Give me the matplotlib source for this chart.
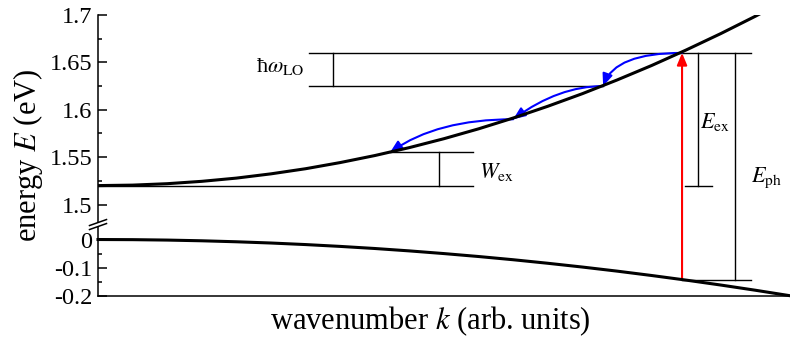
import numpy as np
import matplotlib
matplotlib.use('Agg')
import matplotlib.pyplot as plt
from matplotlib import transforms

plt.rcParams['font.family'] = ['Liberation Serif', 'DejaVu Serif']
plt.rcParams['mathtext.fontset'] = 'stix'

# exciton and valence band dispersion (k in arb. units, E in eV)
k_grid = [0.0, 0.05, 0.1, 0.15, 0.2, 0.25, 0.3, 0.35, 0.4, 0.45, 0.5,
          0.55, 0.6, 0.65, 0.7, 0.75, 0.8, 0.85, 0.9, 0.95, 1.0]
E_exciton = [1.5200, 1.5205, 1.5220, 1.5245, 1.5279, 1.5324, 1.5378, 1.5443, 1.5517, 1.5601, 1.5695,
             1.5799, 1.5913, 1.6037, 1.6170, 1.6314, 1.6467, 1.6631, 1.6804, 1.6987, 1.7180]
E_valence = [0.0, -0.0005, -0.0020, -0.0045, -0.0080, -0.0124, -0.0179, -0.0244, -0.0318, -0.0403, -0.0498,
             -0.0602, -0.0716, -0.0841, -0.0975, -0.1119, -0.1274, -0.1438, -0.1612, -0.1796, -0.1990]

# LO-phonon cascade down the exciton branch
E_cascade = [1.66, 1.625, 1.59, 1.555]
k_cascade = [0.844, 0.730, 0.600, 0.422]
E_ground = 1.52
E_vb_ph = -0.142

y_major = [-0.2, -0.1, 0, 1.5, 1.55, 1.6, 1.65, 1.7]
y_labels = ['-0.2', '-0.1', '0', '1.5', '1.55', '1.6', '1.65', '1.7']
y_minor = [-0.15, -0.05, 1.525, 1.575, 1.625, 1.675]

# broken energy axis: lower part squeezed, gap between 0.053 and 1.479 eV
E_knots = [-5.0, 0.053, 1.479, 5.0]
s_low = 0.298
Y_knots = [1.479 - (0.053 + 5.0) * s_low, 1.479, 1.4791, 1.4791 + (5.0 - 1.479)]

def fwd(e):
    return np.interp(e, E_knots, Y_knots)

def inv(y):
    return np.interp(y, Y_knots, E_knots)

fig = plt.figure(figsize=(7.9, 3.41), dpi=100)
ax = fig.add_axes([98 / 790, 45 / 341, 692 / 790, 281 / 341])
ax.set_yscale('function', functions=(fwd, inv))
ax.set_xlim(0, 1)
ax.set_ylim(-0.2, 1.7)

# bands
ax.plot(k_grid, E_exciton, color='black', lw=2.2, zorder=4, solid_joinstyle='round')
ax.plot(k_grid, E_valence, color='black', lw=2.2, zorder=4, solid_joinstyle='round', clip_on=False)

thin = dict(color='black', lw=1.0, zorder=1)
k_ph = k_cascade[0]

# hbar omega_LO bracket
ax.plot([0.305, 0.944], [E_cascade[0], E_cascade[0]], **thin)
ax.plot([0.305, k_cascade[1]], [E_cascade[1], E_cascade[1]], **thin)
ax.plot([0.340, 0.340], [E_cascade[1], E_cascade[0]], **thin)
ax.text(0.299, 1.640, 'ħ$\\omega_{\\rm LO}$', ha='right', va='baseline', fontsize=16)

# W_ex bracket
ax.plot([k_cascade[3], 0.542], [E_cascade[3], E_cascade[3]], **thin)
ax.plot([0.0, 0.542], [E_ground, E_ground], **thin)
ax.plot([0.493, 0.493], [E_ground, E_cascade[3]], **thin)
ax.text(0.551, 1.5284, '$W_{\\rm ex}$', ha='left', va='baseline', fontsize=16)

# E_ex marker
ax.plot([0.867, 0.867], [E_ground, E_cascade[0]], **thin)
ax.plot([0.848, 0.887], [E_ground, E_ground], **thin)
ax.text(0.870, 1.581, '$E_{\\rm ex}$', ha='left', va='baseline', fontsize=16)

# E_ph marker
ax.plot([0.921, 0.921], [E_vb_ph, E_cascade[0]], **thin)
ax.plot([k_ph, 0.944], [E_vb_ph, E_vb_ph], **thin)
ax.text(0.944, 1.524, '$E_{\\rm ph}$', ha='left', va='baseline', fontsize=16)

# optical excitation
ax.annotate('', xy=(k_ph, E_cascade[0]), xytext=(k_ph, E_vb_ph),
            arrowprops=dict(arrowstyle='-|>,head_length=0.6,head_width=0.25',
                            color='#ff0000', lw=1.5, shrinkA=0, shrinkB=0,
                            mutation_scale=12), zorder=3)

# phonon emission steps
end_angles = [70, 36, 35]
for i in range(3):
    ax.annotate('', xy=(k_cascade[i + 1], E_cascade[i + 1]),
                xytext=(k_cascade[i], E_cascade[i]),
                arrowprops=dict(arrowstyle='-|>,head_length=0.6,head_width=0.25',
                                color='#0000ff', lw=1.5, shrinkA=0, shrinkB=0,
                                mutation_scale=12,
                                connectionstyle='angle3,angleA=0,angleB=%d' % end_angles[i]),
                zorder=3)

# axes styling
for side in ['top', 'right']:
    ax.spines[side].set_visible(False)
for side in ['left', 'bottom']:
    ax.spines[side].set_linewidth(1.1)
ax.set_xticks([])
ax.set_yticks(y_major)
ax.set_yticklabels(y_labels)
ax.set_yticks(y_minor, minor=True)
ax.tick_params(axis='y', which='major', direction='in', length=6.3, width=1.1,
               labelsize=17.5, pad=4)
ax.tick_params(axis='y', which='minor', direction='in', length=3.2, width=1.1)

ax.set_ylabel('energy $E$ (eV)', fontsize=22)
ax.yaxis.set_label_coords(-0.076, 0.5)
ax.set_xlabel('wavenumber $k$ (arb. units)', fontsize=22)
ax.xaxis.set_label_coords(0.481, -0.03)

# axis break marks
brk = fig.dpi_scale_trans + transforms.ScaledTranslation(0, 0.053, ax.get_yaxis_transform())
gap = plt.Polygon([(-0.03, -0.03), (0.03, -0.01), (0.03, 0.03), (-0.03, 0.01)],
                  closed=True, facecolor='white', edgecolor='none',
                  transform=brk, clip_on=False, zorder=5)
ax.add_patch(gap)
for dy in [-0.02, 0.02]:
    ax.plot([-0.085, 0.085], [dy - 0.03, dy + 0.03], color='black', lw=1.1,
            transform=brk, clip_on=False, zorder=6)

ax.set_xlim(0, 1)
ax.set_ylim(-0.2, 1.7)

fig.savefig('out.png', dpi=100)
